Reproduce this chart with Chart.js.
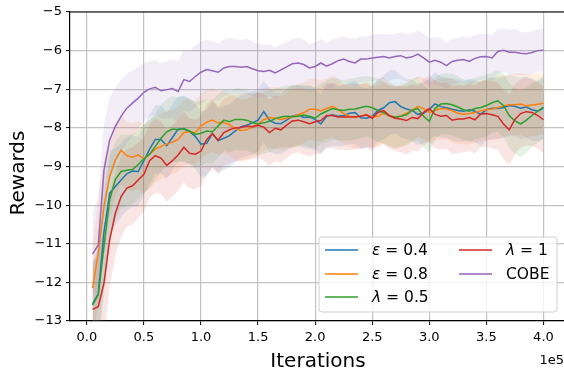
<!DOCTYPE html>
<html><head><meta charset="utf-8">
<script src="https://cdn.jsdelivr.net/npm/chart.js@4.4.0/dist/chart.umd.min.js"></script>
<style>
html,body{margin:0;padding:0;overflow:hidden;background:#fff;width:564px;height:369px}
#wrap{width:570px;height:369px;position:relative}
</style>
</head><body><div id="wrap"><canvas id="c" width="570" height="369"></canvas></div>
<script>
// ---- data (iterations in thousands) ----
const iterK = [5,10,15,20,25,30,35,40,45,50,55,60,65,70,75,80,85,90,95,100,105,110,115,120,125,130,135,140,145,150,155,160,165,170,175,180,185,190,195,200,205,210,215,220,225,230,235,240,245,250,255,260,265,270,275,280,285,290,295,300,305,310,315,320,325,330,335,340,345,350,355,360,365,370,375,380,385,390,395,400];

const seriesNames = ['ε = 0.4','ε = 0.8','λ = 0.5','λ = 1','COBE'];

const eps04 = [-12.55,-12.3,-10.7,-9.69,-9.52,-9.35,-9.19,-9.12,-9.13,-8.85,
-8.55,-8.3,-8.3,-8.46,-8.25,-8.03,-8.03,-8.1,-8.22,-8.42,
-8.4,-8.15,-8.33,-8.27,-8.2,-8.08,-7.97,-7.93,-7.87,-7.8,
-7.58,-7.8,-7.88,-7.89,-7.8,-7.7,-7.66,-7.73,-7.72,-7.78,
-7.9,-7.7,-7.66,-7.7,-7.68,-7.62,-7.6,-7.74,-7.75,-7.7,
-7.55,-7.48,-7.35,-7.32,-7.45,-7.51,-7.55,-7.65,-7.62,-7.52,
-7.38,-7.45,-7.48,-7.52,-7.55,-7.57,-7.53,-7.57,-7.65,-7.53,
-7.49,-7.5,-7.47,-7.42,-7.44,-7.49,-7.46,-7.53,-7.57,-7.49];

const eps08 = [-12.15,-11.25,-10.04,-9.26,-8.83,-8.58,-8.72,-8.76,-8.7,-8.8,
-8.68,-8.55,-8.48,-8.42,-8.37,-8.3,-8.12,-8.1,-8.12,-7.95,
-7.85,-7.8,-7.87,-7.86,-7.92,-8.02,-8.07,-8.05,-7.97,-7.9,
-7.79,-7.73,-7.75,-7.78,-7.75,-7.71,-7.66,-7.61,-7.52,-7.52,
-7.56,-7.5,-7.44,-7.52,-7.63,-7.7,-7.74,-7.69,-7.66,-7.72,
-7.7,-7.62,-7.69,-7.75,-7.69,-7.62,-7.54,-7.45,-7.5,-7.6,
-7.55,-7.5,-7.51,-7.55,-7.62,-7.65,-7.63,-7.6,-7.56,-7.53,
-7.51,-7.48,-7.43,-7.4,-7.4,-7.38,-7.43,-7.41,-7.39,-7.36];

const lam05 = [-12.59,-12.33,-11.07,-9.86,-9.34,-9.13,-9.1,-9.08,-8.95,-8.8,
-8.68,-8.48,-8.27,-8.1,-8.03,-8.05,-8.02,-8.08,-8.17,-8.14,
-8.08,-8.1,-7.95,-7.8,-7.84,-7.78,-7.78,-7.8,-7.86,-7.9,
-7.87,-7.83,-7.76,-7.72,-7.7,-7.71,-7.7,-7.67,-7.7,-7.75,
-7.64,-7.57,-7.5,-7.53,-7.55,-7.52,-7.51,-7.47,-7.44,-7.48,
-7.55,-7.6,-7.69,-7.72,-7.7,-7.66,-7.55,-7.5,-7.7,-7.83,
-7.5,-7.38,-7.37,-7.4,-7.46,-7.53,-7.57,-7.5,-7.47,-7.42,
-7.35,-7.3,-7.42,-7.68,-7.82,-7.9,-7.8,-7.68,-7.57,-7.46];

const lam1 = [-12.7,-12.63,-12.02,-10.9,-10.21,-9.78,-9.56,-9.5,-9.35,-9.2,
-8.85,-8.72,-8.78,-8.97,-8.85,-8.7,-8.5,-8.66,-8.68,-8.6,
-8.3,-8.15,-8.32,-8.12,-8.05,-8.0,-7.99,-7.95,-7.97,-7.93,
-7.98,-8.12,-8.01,-8.05,-7.93,-7.82,-7.8,-7.84,-7.89,-7.84,
-7.81,-7.68,-7.68,-7.72,-7.71,-7.72,-7.71,-7.7,-7.66,-7.75,
-7.6,-7.55,-7.68,-7.75,-7.77,-7.81,-7.73,-7.76,-7.6,-7.5,
-7.65,-7.7,-7.68,-7.8,-7.77,-7.77,-7.73,-7.79,-7.64,-7.63,
-7.66,-7.7,-7.9,-8.05,-7.78,-7.63,-7.58,-7.6,-7.68,-7.79];

const cobe = [-11.27,-11.03,-9.1,-8.31,-7.96,-7.7,-7.49,-7.36,-7.23,-7.08,
-6.99,-6.95,-7.04,-7.01,-6.98,-7.06,-6.75,-6.8,-6.67,-6.56,
-6.49,-6.52,-6.56,-6.45,-6.41,-6.41,-6.43,-6.41,-6.47,-6.52,
-6.54,-6.51,-6.58,-6.5,-6.42,-6.34,-6.32,-6.36,-6.45,-6.41,
-6.32,-6.4,-6.34,-6.26,-6.22,-6.28,-6.32,-6.22,-6.22,-6.19,
-6.17,-6.15,-6.19,-6.15,-6.13,-6.19,-6.16,-6.09,-6.19,-6.3,
-6.25,-6.3,-6.39,-6.28,-6.25,-6.23,-6.28,-6.2,-6.16,-6.15,
-6.19,-6.02,-5.99,-6.04,-6.04,-6.07,-6.08,-6.05,-6.0,-5.99];

// half-widths of the shaded bands
const spreadEps04 = [1.0,1.3,1.3,1.1,1.0,0.95,0.95,0.92,0.9,0.9,
0.9,0.88,0.88,0.86,0.85,0.85,0.86,0.84,0.84,0.85,
0.86,0.85,0.84,0.83,0.82,0.82,0.8,0.8,0.82,0.8,
0.8,0.82,0.8,0.78,0.8,0.8,0.78,0.8,0.82,0.8,
0.78,0.8,0.8,0.78,0.78,0.8,0.82,0.8,0.78,0.8,
0.8,0.82,0.84,0.82,0.8,0.78,0.8,0.8,0.78,0.8,
0.82,0.8,0.78,0.8,0.8,0.78,0.8,0.8,0.82,0.8,
0.8,0.78,0.8,0.8,0.78,0.8,0.8,0.8,0.78,0.8];
const spreadEps08 = [1.1,1.4,1.2,1.0,0.95,0.9,0.9,0.88,0.88,0.9,
0.88,0.86,0.85,0.85,0.84,0.84,0.85,0.84,0.82,0.84,
0.84,0.82,0.82,0.8,0.8,0.82,0.8,0.8,0.78,0.8,
0.8,0.78,0.8,0.8,0.78,0.8,0.8,0.78,0.78,0.8,
0.8,0.78,0.8,0.8,0.78,0.78,0.8,0.82,0.8,0.78,
0.8,0.8,0.78,0.8,0.82,0.8,0.8,0.78,0.8,0.8,
0.78,0.8,0.8,0.82,0.8,0.78,0.8,0.8,0.78,0.8,
0.8,0.82,0.8,0.78,0.8,0.8,0.82,0.8,0.8,0.78];
const spreadLam05 = [1.0,1.2,1.3,1.1,1.0,0.95,0.92,0.9,0.9,0.88,
0.88,0.86,0.86,0.85,0.85,0.84,0.84,0.85,0.84,0.84,
0.82,0.82,0.82,0.8,0.8,0.8,0.8,0.78,0.8,0.8,
0.8,0.8,0.78,0.78,0.8,0.8,0.8,0.78,0.8,0.8,
0.78,0.8,0.8,0.8,0.78,0.8,0.8,0.8,0.78,0.8,
0.82,0.8,0.8,0.8,0.78,0.8,0.8,0.82,0.8,0.82,
0.8,0.78,0.8,0.8,0.8,0.78,0.8,0.8,0.8,0.8,
0.78,0.8,0.82,0.84,0.85,0.86,0.84,0.82,0.8,0.8];
const spreadLam1 = [1.2,1.4,1.4,1.2,1.1,1.05,1.0,1.0,0.98,0.96,
0.95,0.95,0.94,0.94,0.92,0.92,0.92,0.9,0.9,0.9,
0.9,0.9,0.88,0.88,0.88,0.86,0.86,0.86,0.85,0.85,
0.86,0.86,0.85,0.86,0.85,0.84,0.84,0.85,0.86,0.85,
0.85,0.84,0.84,0.85,0.85,0.86,0.85,0.84,0.85,0.85,
0.85,0.86,0.86,0.85,0.86,0.88,0.86,0.85,0.86,0.86,
0.88,0.86,0.86,0.88,0.88,0.86,0.86,0.88,0.86,0.86,
0.86,0.88,0.9,0.92,0.9,0.88,0.88,0.86,0.86,0.86];
const spreadCobe = [1.1,1.2,1.2,1.1,1.0,0.95,0.9,0.85,0.8,0.75,
0.72,0.7,0.72,0.74,0.75,0.78,0.8,0.78,0.8,0.8,
0.78,0.76,0.75,0.74,0.74,0.72,0.7,0.72,0.7,0.7,
0.68,0.68,0.66,0.66,0.64,0.64,0.66,0.64,0.62,0.62,
0.62,0.6,0.62,0.6,0.6,0.6,0.62,0.6,0.58,0.6,
0.6,0.58,0.6,0.58,0.6,0.62,0.6,0.62,0.64,0.62,
0.6,0.62,0.6,0.6,0.58,0.6,0.62,0.6,0.6,0.58,
0.6,0.58,0.56,0.58,0.6,0.56,0.55,0.56,0.55,0.55];

const xTickVals = [0.0,0.5,1.0,1.5,2.0,2.5,3.0,3.5,4.0];
const yTickVals = [-13,-12,-11,-10,-9,-8,-7,-6,-5];
const xTitle = 'Iterations';
const yTitle = 'Rewards';
const offsetText = '1e5';

// ---- styling ----
const colors = ['#1f77b4','#ff7f0e','#2ca02c','#d62728','#9467bd'];
const rgba = (hex,a)=>{const n=parseInt(hex.slice(1),16);return `rgba(${n>>16},${(n>>8)&255},${n&255},${a})`;};
const means = [eps04, eps08, lam05, lam1, cobe];
const spreads = [spreadEps04, spreadEps08, spreadLam05, spreadLam1, spreadCobe];
const FONT = '"DejaVu Sans", Verdana, sans-serif';

const datasets = [];
means.forEach((m, s) => {
  const sp = spreads[s];
  datasets.push({
    label: seriesNames[s] + ' hi',
    data: iterK.map((k,i)=>({x:k*1000, y:m[i]+sp[i]})),
    borderWidth: 0, pointRadius: 0, fill: false, order: 20 - s,
    borderColor: 'transparent'
  });
  datasets.push({
    label: seriesNames[s] + ' lo',
    data: iterK.map((k,i)=>({x:k*1000, y:m[i]-sp[i]})),
    borderWidth: 0, pointRadius: 0, fill: '-1', order: 20 - s,
    borderColor: 'transparent', backgroundColor: rgba(colors[s], 0.12)
  });
});
means.forEach((m, s) => {
  datasets.push({
    label: seriesNames[s],
    data: iterK.map((k,i)=>({x:k*1000, y:m[i]})),
    borderColor: colors[s], borderWidth: 1.5, pointRadius: 0, fill: false,
    tension: 0, order: 5 - s
  });
});

const decor = {
  id: 'decor',
  afterDraw(chart) {
    const {ctx, chartArea: a} = chart;
    ctx.save();
    ctx.strokeStyle = '#000'; ctx.lineWidth = 1.2;
    ctx.beginPath(); ctx.moveTo(a.left, a.top); ctx.lineTo(a.right, a.top); ctx.stroke();
    ctx.fillStyle = '#000';
    ctx.font = '20px ' + FONT;
    ctx.textAlign = 'center'; ctx.textBaseline = 'alphabetic';
    ctx.fillText(xTitle, (a.left + a.right) / 2, 367);
    ctx.save(); ctx.translate(23.5, 173); ctx.rotate(-Math.PI / 2);
    ctx.fillText(yTitle, 0, 0); ctx.restore();
    ctx.font = '13px ' + FONT; ctx.textAlign = 'right';
    ctx.fillText(offsetText, 564, 364);

    // legend
    const bx = 319, by = 237, bw = 238, bh = 75, r = 3;
    ctx.beginPath();
    ctx.moveTo(bx + r, by); ctx.lineTo(bx + bw - r, by); ctx.quadraticCurveTo(bx + bw, by, bx + bw, by + r);
    ctx.lineTo(bx + bw, by + bh - r); ctx.quadraticCurveTo(bx + bw, by + bh, bx + bw - r, by + bh);
    ctx.lineTo(bx + r, by + bh); ctx.quadraticCurveTo(bx, by + bh, bx, by + bh - r);
    ctx.lineTo(bx, by + r); ctx.quadraticCurveTo(bx, by, bx + r, by); ctx.closePath();
    ctx.fillStyle = 'rgba(255,255,255,0.8)'; ctx.fill();
    ctx.strokeStyle = '#d0d0d0'; ctx.lineWidth = 1; ctx.stroke();

    const pos = [[325, 250], [325, 274], [325, 297], [459, 250], [459, 274]];
    ctx.textAlign = 'left'; ctx.textBaseline = 'middle';
    seriesNames.forEach((name, s) => {
      const [lx, ly] = pos[s];
      ctx.strokeStyle = colors[s]; ctx.lineWidth = 1.5;
      ctx.beginPath(); ctx.moveTo(lx, ly); ctx.lineTo(lx + 33, ly); ctx.stroke();
      ctx.fillStyle = '#000';
      let tx = lx + 47;
      if (name[0] === 'ε' || name[0] === 'λ') {
        ctx.font = 'italic 15.5px ' + FONT;
        ctx.fillText(name[0], tx, ly + 1);
        tx += ctx.measureText(name[0]).width;
        ctx.font = '15.5px ' + FONT;
        ctx.fillText(name.slice(1), tx, ly + 1);
      } else {
        ctx.font = '15.5px ' + FONT;
        ctx.fillText(name, tx, ly + 1);
      }
    });
    ctx.restore();
  }
};

new Chart(document.getElementById('c'), {
  type: 'line',
  data: { datasets },
  plugins: [decor],
  options: {
    responsive: false, devicePixelRatio: 1, animation: false,
    layout: { padding: { top: 12, right: 4, left: 0, bottom: 0 } },
    plugins: { legend: { display: false }, tooltip: { enabled: false } },
    scales: {
      x: {
        type: 'linear', min: -14750, max: 419750, bounds: 'data',
        afterBuildTicks: sc => { sc.ticks = xTickVals.map(v => ({ value: v * 1e5 })); },
        afterFit: sc => { sc.height = 48; },
        ticks: { color: '#000', font: { family: FONT, size: 13 }, padding: 5, maxRotation: 0,
                 callback: v => (v / 1e5).toFixed(1) },
        grid: { color: '#c2c2c2', lineWidth: 1.2, tickColor: '#000', tickLength: 4, tickWidth: 1 },
        border: { display: true, color: '#000', width: 1.2 }
      },
      y: {
        type: 'linear', min: -13, max: -5,
        afterBuildTicks: sc => { sc.ticks = yTickVals.map(v => ({ value: v })); },
        afterFit: sc => { sc.width = 70; },
        ticks: { color: '#000', font: { family: FONT, size: 13 }, padding: 4,
                 callback: v => (v < 0 ? '\u2212' + Math.abs(v) : String(v)) },
        grid: { color: '#c2c2c2', lineWidth: 1.2, tickColor: '#000', tickLength: 4, tickWidth: 1 },
        border: { display: true, color: '#000', width: 1.2 }
      }
    }
  }
});
</script></body></html>
